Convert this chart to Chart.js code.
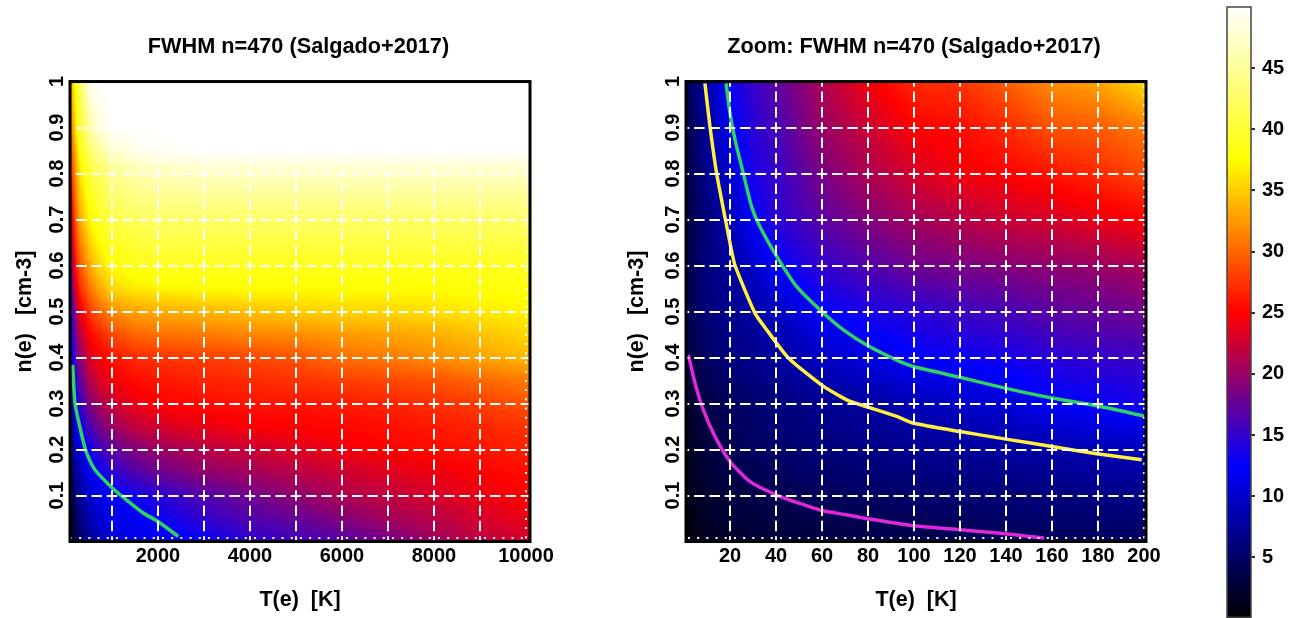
<!DOCTYPE html>
<html>
<head>
<meta charset="utf-8">
<title>FWHM n=470 (Salgado+2017)</title>
<script src="https://cdn.jsdelivr.net/npm/chart.js@4/dist/chart.umd.min.js"></script>
<style>
  body { margin: 0; background: #fff; width: 1295px; height: 618px; overflow: hidden; }
  canvas { position: absolute; top: 0; }
</style>
</head>
<body>
<canvas id="wide" width="597" height="618" style="left:0"></canvas>
<canvas id="zoom" width="588" height="618" style="left:620px"></canvas>
<canvas id="bar" width="95" height="618" style="left:1200px"></canvas>
<script>
// axis ticks
const densityGrid = [0.007, 0.1, 0.2, 0.3, 0.4, 0.5, 0.6, 0.7, 0.8, 0.9, 1];
const densityLabels = [0.1, 0.2, 0.3, 0.4, 0.5, 0.6, 0.7, 0.8, 0.9, 1];
const wideGrid = [1000, 2000, 3000, 4000, 5000, 6000, 7000, 8000, 9000, 10000];
const wideLabels = [2000, 4000, 6000, 8000, 10000];
const zoomGrid = [20, 40, 60, 80, 100, 120, 140, 160, 180, 200];
const barLabels = [5, 10, 15, 20, 25, 30, 35, 40, 45];

// left panel, FWHM (row = n(e), column = T(e))
const wideT = [100, 200, 300, 500, 700, 1000, 1500, 2000, 3000, 4000, 5000, 6000, 7000, 8000, 9000, 10000];
const wideN = [0.01, 0.05, 0.1, 0.15, 0.2, 0.25, 0.3, 0.35, 0.4, 0.45, 0.5, 0.55, 0.6, 0.7, 0.8, 0.85, 0.9, 1];
const wideFwhm = [
  [1, 3, 5, 7.5, 9, 10.5, 11.5, 12, 13, 15, 16, 17, 18.5, 20.5, 22, 23],
  [1.5, 4, 6, 8.5, 10, 11.5, 11.8, 12.8, 15, 16.5, 17.5, 19, 20.5, 21.5, 23, 24],
  [2, 5.5, 7.5, 10, 11.2, 12.2, 13.2, 14.5, 16.5, 18, 19.5, 21, 22, 23, 24, 25],
  [3, 7, 9, 11.5, 12.7, 14.5, 16.5, 17.8, 19.5, 20.5, 21.5, 22.5, 23.5, 24.2, 25, 25.7],
  [4, 9, 11, 13, 15, 17, 19, 20, 21.5, 22.5, 23.5, 24.3, 25, 25.5, 26, 26.5],
  [5, 10.5, 13, 16, 18, 20, 22, 23, 24, 24.7, 25, 25.3, 25.7, 26.2, 26.8, 27.5],
  [6, 12.7, 15, 18.5, 20.5, 22.5, 24, 25, 25.5, 26, 26, 26.3, 26.7, 27.3, 28, 29],
  [7, 14.5, 17, 21, 23, 24.5, 25.5, 26, 26.7, 27, 27.5, 28, 28.5, 29, 30, 31],
  [8.5, 16.5, 19, 23, 24.5, 26, 27, 27.5, 28, 28.5, 29, 30.5, 31, 32, 33, 34],
  [10.5, 18, 21.5, 25, 26.5, 28.5, 30, 30.5, 31, 31.5, 32, 32.5, 33, 33.5, 34.5, 35.5],
  [13, 20, 24, 27.5, 29.5, 32, 33, 33.5, 34, 34.5, 35, 35.5, 35.5, 36, 36.5, 37],
  [15, 23, 27, 30.5, 33, 35.5, 36.5, 37, 37.5, 37.5, 37.5, 37.5, 37.5, 37.5, 38, 38],
  [17, 25.5, 29, 33, 35.5, 37.5, 38.5, 39, 39, 39, 39, 39, 39, 39, 39, 39],
  [22, 29, 33, 37, 39, 41, 42, 42.5, 42.5, 42.5, 42.5, 42.5, 42.5, 42.5, 42.5, 42.5],
  [26, 32, 36, 40, 42, 44, 46, 46.5, 47, 47, 47, 47, 47, 47, 47, 47],
  [28, 33.5, 38, 42.5, 45, 47.5, 49, 49.5, 50, 50, 50, 50, 50, 50, 50, 50],
  [30, 35.5, 40, 45, 48, 50, 50, 50, 50, 50, 50, 50, 50, 50, 50, 50],
  [33, 38, 42, 49, 50, 50, 50, 50, 50, 50, 50, 50, 50, 50, 50, 50]
];

// right panel
const zoomT = [1, 5, 10, 20, 30, 40, 60, 80, 100, 120, 140, 160, 180, 200];
const zoomN = [0.01, 0.05, 0.1, 0.2, 0.3, 0.4, 0.5, 0.6, 0.7, 0.8, 0.9, 1];
const zoomFwhm = [
  [0.3, 1, 1.5, 2, 2.5, 2.8, 3.2, 3.5, 3.8, 4, 4.2, 4.5, 4.7, 5],
  [0.5, 1.4, 2, 2.7, 3.1, 3.4, 3.8, 4.1, 4.4, 4.7, 5, 5.2, 5.5, 5.7],
  [0.9, 1.7, 2.4, 3.1, 3.5, 3.9, 4.4, 4.8, 5.2, 5.5, 5.8, 6.1, 6.5, 6.8],
  [1.4, 2.2, 3, 4, 4.7, 5.2, 6, 6.6, 7.1, 7.5, 7.9, 8.3, 8.8, 9.2],
  [1.8, 2.8, 3.4, 4.5, 5.3, 6, 7, 7.8, 9, 9.8, 10.5, 12.2, 12.8, 13.5],
  [2.7, 4, 4.8, 6.2, 6.9, 7.7, 9.6, 11, 12.5, 13, 13.5, 14.5, 15, 15.5],
  [3.3, 4.8, 5.8, 7, 7.9, 9.3, 12.5, 13.8, 14.5, 15.5, 16, 17, 17.5, 18],
  [3.6, 4.9, 6.2, 7.7, 9.8, 12.3, 15, 16.5, 18, 18.5, 19, 19.5, 20, 21],
  [3, 4.5, 6, 8.7, 12.5, 14.5, 17, 19, 20.5, 21.5, 22.5, 23, 24, 25],
  [3.2, 5, 6.8, 10.2, 13.7, 15, 18.5, 21, 23, 24.5, 25, 26, 27, 28.5],
  [3.5, 5.3, 7.6, 12, 14.5, 16, 20, 22.5, 25, 25.5, 27, 29, 29.5, 31],
  [4, 6, 8.5, 13, 15, 17, 21, 24.5, 27, 27.5, 29.5, 32, 33, 36]
];

// contour lines
const wideGreenT = [146, 196, 341, 450, 630, 1000, 1320, 1680, 2000, 2441];
const wideGreenN = [0.384, 0.30, 0.232, 0.192, 0.156, 0.117, 0.09, 0.062, 0.0435, 0.011];
const zoomGreenT = [18.3, 20, 22.2, 25.8, 29.4, 33, 40.3, 49, 59.9, 69.3, 80, 93.9, 100, 120, 140, 160, 179.5, 200];
const zoomGreenN = [0.996, 0.931, 0.873, 0.80, 0.728, 0.685, 0.62, 0.554, 0.50, 0.46, 0.4254, 0.391, 0.38, 0.357, 0.333, 0.312, 0.295, 0.273];
const zoomYellowT = [9.1, 11.3, 14.2, 18, 20, 22.2, 30.9, 36, 45.4, 59.9, 70.7, 80, 92.5, 100, 120, 140, 160, 179.5, 199];
const zoomYellowN = [0.996, 0.902, 0.80, 0.70, 0.649, 0.60, 0.496, 0.46, 0.399, 0.34, 0.308, 0.292, 0.272, 0.257, 0.239, 0.2226, 0.2065, 0.1907, 0.1776];
const zoomMagentaT = [1.9, 4.8, 8.4, 13.5, 20, 28.7, 40, 49, 59.9, 70.7, 80, 100, 120, 140, 156.5];
const zoomMagentaN = [0.406, 0.344, 0.286, 0.228, 0.174, 0.13, 0.1015, 0.085, 0.0674, 0.058, 0.0493, 0.034, 0.0254, 0.0167, 0.0074];

// colour table
const colorLevels = [0, 12.5, 25, 37.5, 50];
const colorStops = [[0, 0, 0], [0, 0, 255], [255, 0, 0], [255, 255, 0], [255, 255, 255]];
const barLevels = [0.1, 12.5, 25, 37.5, 50];

const FONT = "'Liberation Sans', Arial, sans-serif";

function colorFor(v) {
  v = Math.max(colorLevels[0], Math.min(v, colorLevels[colorLevels.length - 1]));
  let i = 0;
  while (i < colorLevels.length - 2 && v > colorLevels[i + 1]) i++;
  const f = (v - colorLevels[i]) / (colorLevels[i + 1] - colorLevels[i]);
  return colorStops[i].map((c, k) => c + (colorStops[i + 1][k] - c) * f);
}

function toCells(xs, ys, rows) {
  return ys.flatMap((y, r) => xs.map((x, c) => ({ x, y, v: rows[r][c] })));
}

function bracket(list, value) {
  if (value <= list[0]) return [0, 0, 0];
  if (value >= list[list.length - 1]) return [list.length - 1, list.length - 1, 0];
  let i = 0;
  while (value > list[i + 1]) i++;
  return [i, i + 1, (value - list[i]) / (list[i + 1] - list[i])];
}

// paints the grid dataset behind the lines, shaded between its cells
function heatLayer(xs, ys) {
  return {
    id: "heatLayer",
    beforeDatasetsDraw(chart) {
      const { left, top, width, height } = chart.chartArea;
      const cells = chart.data.datasets[0].data;
      const w = Math.round(width), h = Math.round(height);
      const off = document.createElement("canvas");
      off.width = w;
      off.height = h;
      const octx = off.getContext("2d");
      const img = octx.createImageData(w, h);
      for (let py = 0; py < h; py++) {
        const [r0, r1, fy] = bracket(ys, chart.scales.y.getValueForPixel(top + py + 0.5));
        for (let px = 0; px < w; px++) {
          const [c0, c1, fx] = bracket(xs, chart.scales.x.getValueForPixel(left + px + 0.5));
          const at = (r, c) => cells[r * xs.length + c].v;
          const a = at(r0, c0) + (at(r0, c1) - at(r0, c0)) * fx;
          const b = at(r1, c0) + (at(r1, c1) - at(r1, c0)) * fx;
          const rgb = colorFor(a + (b - a) * fy);
          const k = (py * w + px) * 4;
          img.data[k] = rgb[0];
          img.data[k + 1] = rgb[1];
          img.data[k + 2] = rgb[2];
          img.data[k + 3] = 255;
        }
      }
      octx.putImageData(img, 0, 0);
      chart.ctx.drawImage(off, left, top, width, height);
    }
  };
}

function frame(color, lineWidth) {
  return {
    id: "frame",
    afterDraw(chart) {
      const { left, top, width, height } = chart.chartArea;
      const ctx = chart.ctx;
      ctx.save();
      ctx.strokeStyle = color;
      ctx.lineWidth = lineWidth;
      ctx.strokeRect(left, top, width, height);
      ctx.restore();
    }
  };
}

// title centred on the whole canvas, not just the part left of the padding
const wideTitle = {
  id: "wideTitle",
  afterLayout(chart) {
    chart.titleBlock.left = 0;
    chart.titleBlock.right = chart.width;
  }
};

function contour(xs, ys, color) {
  return {
    data: xs.map((x, i) => ({ x, y: ys[i] })),
    showLine: true,
    borderColor: color,
    borderWidth: 3.5,
    pointRadius: 0,
    tension: 0.2,
    order: 0
  };
}

function panel(id, titleText, xs, ys, rows, lines, xMin, xMax, xGrid, xLabels, xLast, layoutRight, yAxisWidth, xDashOffset, yTitlePad) {
  const period = [10.5, 4.83];
  new Chart(document.getElementById(id), {
    type: "scatter",
    data: {
      datasets: [
        { label: "FWHM", data: toCells(xs, ys, rows), pointRadius: 0, order: 1 },
        ...lines
      ]
    },
    options: {
      responsive: false,
      animation: false,
      events: [],
      layout: { padding: { left: 0, right: layoutRight, top: 0, bottom: 0 } },
      plugins: {
        legend: { display: false },
        tooltip: { enabled: false },
        title: {
          display: true,
          text: titleText,
          color: "#000",
          font: { family: FONT, size: 21.7, weight: "bold" },
          padding: { top: 34, bottom: 21.5 }
        }
      },
      scales: {
        x: {
          type: "linear",
          min: xMin,
          max: xMax,
          afterBuildTicks: (axis) => { axis.ticks = xGrid.map((value) => ({ value })); },
          afterFit: (axis) => { axis.height = 76.5; },
          grid: { color: "#fff", lineWidth: 2, z: 1, drawTicks: false },
          border: {
            display: false,
            dash: (ctx) => (ctx.tick && ctx.tick.value === xLast ? [2, 7.2] : period),
            dashOffset: 5.25
          },
          ticks: {
            color: "#000",
            font: { family: FONT, size: 20, weight: "bold" },
            padding: 3,
            autoSkip: false,
            maxRotation: 0,
            callback: (v) => (xLabels.includes(v) ? String(v) : "")
          },
          title: {
            display: true,
            text: "T(e)  [K]",
            color: "#000",
            font: { family: FONT, size: 21.5, weight: "bold" },
            padding: { top: 0, bottom: 5 }
          }
        },
        y: {
          type: "linear",
          min: 0,
          max: 1,
          afterBuildTicks: (axis) => { axis.ticks = densityGrid.map((value) => ({ value })); },
          afterFit: (axis) => { axis.width = yAxisWidth; },
          grid: { color: "#fff", lineWidth: 2, z: 1, drawTicks: false },
          border: {
            display: false,
            dash: (ctx) => (ctx.tick && ctx.tick.value === densityGrid[0] ? [2, 7.2] : period),
            dashOffset: xDashOffset
          },
          ticks: {
            color: "#000",
            font: { family: FONT, size: 20, weight: "bold" },
            padding: -1.5,
            autoSkip: false,
            minRotation: 90,
            maxRotation: 90,
            crossAlign: "center",
            callback: (v) => (densityLabels.includes(v) ? String(v) : "")
          },
          title: {
            display: true,
            text: "n(e)   [cm-3]",
            color: "#000",
            font: { family: FONT, size: 21.5, weight: "bold" },
            padding: { top: yTitlePad, bottom: 0 }
          }
        }
      }
    },
    plugins: [wideTitle, heatLayer(xs, ys), frame("#000", 3)]
  });
}

panel("wide", "FWHM n=470 (Salgado+2017)", wideT, wideN, wideFwhm,
  [contour(wideGreenT, wideGreenN, "#2fd35f")],
  87, 10087, wideGrid, wideLabels, 10000, 67, 70, 9.24, 12);

panel("zoom", "Zoom: FWHM n=470 (Salgado+2017)", zoomT, zoomN, zoomFwhm,
  [
    contour(zoomGreenT, zoomGreenN, "#2fd35f"),
    contour(zoomYellowT, zoomYellowN, "#fff03c"),
    contour(zoomMagentaT, zoomMagentaN, "#e028d8")
  ],
  0.87, 200.87, zoomGrid, zoomGrid, 200, 62, 66, 7.25, 4);

// colour bar
new Chart(document.getElementById("bar"), {
  type: "scatter",
  data: {
    datasets: [{
      label: "FWHM scale",
      data: toCells([0, 1], barLevels, barLevels.map((v) => [v, v])),
      pointRadius: 0
    }]
  },
  options: {
    responsive: false,
    animation: false,
    events: [],
    layout: { padding: { left: 27, right: 0, top: 7, bottom: 0.7 } },
    plugins: { legend: { display: false }, tooltip: { enabled: false } },
    scales: {
      x: { type: "linear", min: 0, max: 1, display: false },
      y: {
        type: "linear",
        position: "right",
        min: 0.1,
        max: 50,
        afterBuildTicks: (axis) => { axis.ticks = barLabels.map((value) => ({ value })); },
        afterFit: (axis) => {
          axis.width = 44;
          axis.paddingTop = 0;
          axis.paddingBottom = 0;
        },
        grid: { drawOnChartArea: false, drawTicks: true, tickLength: 4, color: "#333", lineWidth: 2 },
        border: { display: false },
        ticks: {
          color: "#000",
          font: { family: FONT, size: 20, weight: "bold" },
          padding: 7,
          autoSkip: false,
          callback: (v) => String(v)
        }
      }
    }
  },
  plugins: [heatLayer([0, 1], barLevels), frame("#444", 1.5)]
});
</script>
</body>
</html>
